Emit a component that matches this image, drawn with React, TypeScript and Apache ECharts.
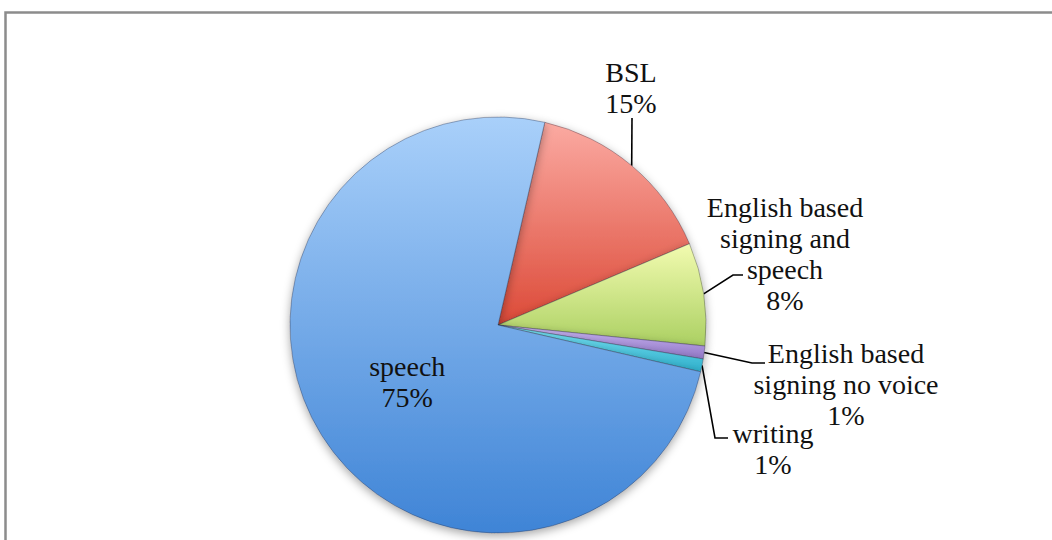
import React, { useEffect, useRef } from "react";
import * as echarts from "echarts";

const categories: string[] = [
  "BSL",
  "English based signing and speech",
  "English based signing no voice",
  "writing",
  "speech",
];
const labelTexts: string[] = [
  "BSL\n15%",
  "English based\nsigning and\nspeech\n8%",
  "English based\nsigning no voice\n1%",
  "writing\n1%",
  "speech\n75%",
];
const values: number[] = [15, 8, 1, 1, 75];

const gradients: [string, string][] = [
  ["#fbaaa2", "#dc4a38"],
  ["#f2fbb0", "#abd062"],
  ["#c9b6f2", "#9479c8"],
  ["#7ae2f2", "#2fb0cc"],
  ["#a9d0fa", "#3f84d6"],
];

export default function App() {
  const ref = useRef<HTMLDivElement>(null);
  useEffect(() => {
    document.body.style.margin = "0";
    const chart = echarts.init(ref.current!, null, { renderer: "svg" });
    const font = "'Liberation Serif', 'DejaVu Serif', serif";
    const labelPos: Record<number, { x: number; y: number; line: number[][] }> = {
      0: { x: 631, y: 88, line: [[632, 118], [632, 118]] },
      1: { x: 785, y: 254, line: [[733, 275], [743, 275]] },
      2: { x: 846, y: 384, line: [[752, 363], [765, 363]] },
      3: { x: 773, y: 449, line: [[715, 438], [728, 438]] },
    };
    chart.setOption({
      animation: false,
      backgroundColor: "#ffffff",
      graphic: [
        {
          type: "rect",
          shape: { x: 5.5, y: 12.5, width: 1200, height: 700 },
          style: { fill: "none", stroke: "#8c8c8c", lineWidth: 2.5 },
          silent: true,
        },
      ],
      series: [
        {
          type: "pie",
          center: [498, 325],
          radius: 208,
          startAngle: 77,
          clockwise: true,
          avoidLabelOverlap: false,
          itemStyle: {
            borderColor: "rgba(40,40,60,0.35)",
            borderWidth: 1,
            shadowBlur: 10,
            shadowColor: "rgba(0,0,0,0.35)",
            shadowOffsetY: 3,
          },
          label: {
            show: true,
            fontFamily: font,
            fontSize: 28,
            lineHeight: 31,
            color: "#111111",
            align: "center",
          },
          labelLine: {
            show: true,
            length: 20,
            length2: 12,
            lineStyle: { color: "#000000", width: 1.6 },
          },
          labelLayout: (params: any) => {
            const p = labelPos[params.dataIndex];
            if (!p) return {};
            const start =
              params.labelLinePoints && params.labelLinePoints[0]
                ? params.labelLinePoints[0]
                : p.line[0];
            return {
              x: p.x,
              y: p.y,
              align: "center",
              verticalAlign: "middle",
              labelLinePoints: [start, p.line[0], p.line[1]],
            };
          },
          data: categories.map((name, i) => ({
            name,
            value: values[i],
            label:
              i === 4
                ? { position: "inside", formatter: labelTexts[i] }
                : { position: "outside", formatter: labelTexts[i] },
            labelLine: i === 4 ? { show: false } : undefined,
            itemStyle: {
              color: {
                type: "linear",
                x: 0,
                y: 0,
                x2: 0,
                y2: 1,
                colorStops: [
                  { offset: 0, color: gradients[i][0] },
                  { offset: 1, color: gradients[i][1] },
                ],
              },
            },
          })),
        },
      ],
    });
    return () => chart.dispose();
  }, []);
  return (
    <div
      ref={ref}
      style={{ position: "fixed", left: 0, top: 0, width: 1052, height: 540 }}
    />
  );
}
